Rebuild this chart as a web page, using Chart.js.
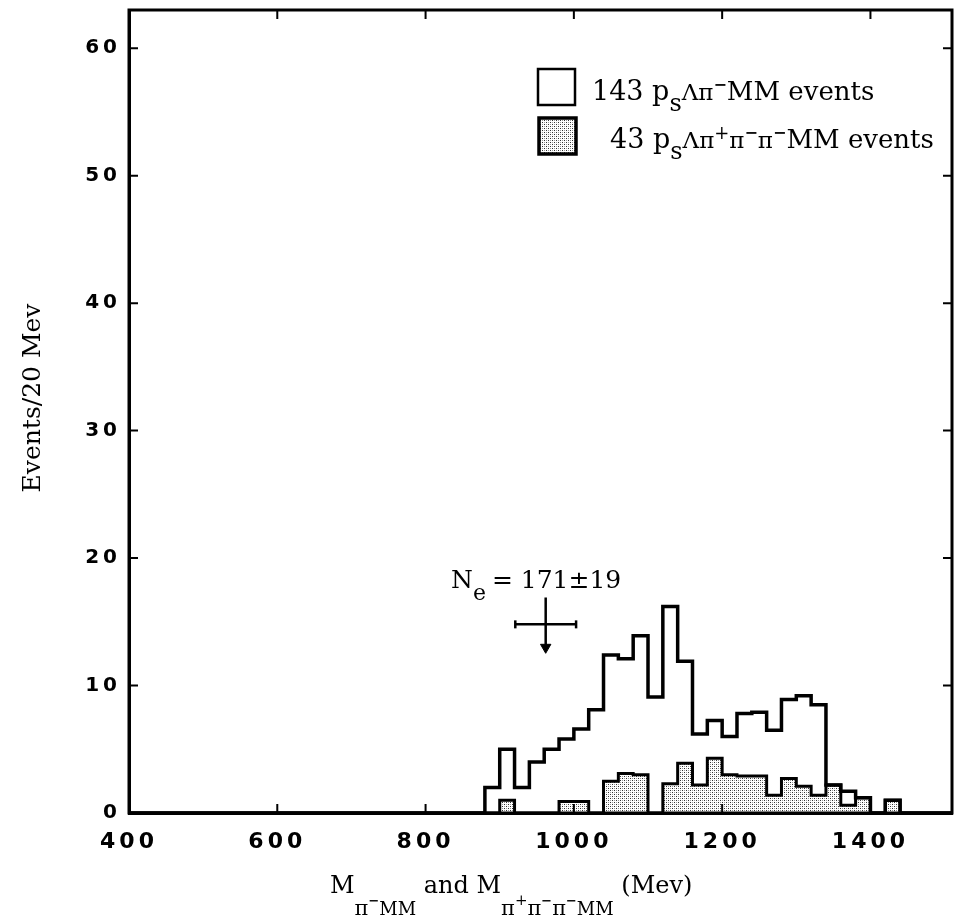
<!DOCTYPE html>
<html><head><meta charset="utf-8">
<script src="https://cdn.jsdelivr.net/npm/chart.js@4.4.0/dist/chart.umd.min.js"></script>
<style>html,body{margin:0;padding:0;background:#fff}#wrap{width:959px;height:923px;position:relative}</style>
</head><body><div id="wrap"><canvas id="c" width="959" height="923"></canvas></div>
<script>
// ---- data ----
const binLowEdges = [880,900,920,940,960,980,1000,1020,1040,1060,1080,1100,1120,1140,1160,1180,1200,1220,1240,1260,1280,1300,1320,1340,1360,1380,1400,1420];
const totalEvents = [2,5,2,4,5,5.8,6.6,8.1,12.4,12.1,13.9,9.1,16.2,11.9,6.2,7.25,6.0,7.8,7.9,6.5,8.9,9.2,8.5,2.2,1.7,1.2,0,1];
const threePionEvents = [0,1,0,0,0,0.9,0.9,0,2.5,3.1,3.0,0,2.3,3.9,2.2,4.3,3.0,2.9,2.9,1.4,2.7,2.1,1.4,2.2,0.6,1.2,0,1];
const binWidth = [20];
const xTicks = [400,600,800,1000,1200,1400];
const yTicks = [0,10,20,30,40,50,60];
const xRange = [400,1510];
const yRange = [0,63];
const markerX = [962];
const markerY = [14.8];
const markerXErr = [41];
const markerYSpan = [16.9, 13.0];

// ---- helpers ----
function stepPoints(edges, vals) {
  const pts = [{x: xRange[0], y: 0}];
  edges.forEach((e, i) => pts.push({x: e, y: vals[i]}));
  pts.push({x: edges[edges.length - 1] + binWidth[0], y: 0});
  pts.push({x: xRange[1], y: 0});
  return pts;
}
function makePattern() {
  const c = document.createElement('canvas');
  c.width = 4; c.height = 4;
  const g = c.getContext('2d');
  g.fillStyle = '#ffffff'; g.fillRect(0, 0, 4, 4);
  g.fillStyle = '#333333';
  g.fillRect(0, 0, 1, 1); g.fillRect(2, 2, 1, 1);
  g.fillStyle = '#9a9a9a';
  g.fillRect(2, 0, 1, 1); g.fillRect(0, 2, 1, 1);
  return document.getElementById('c').getContext('2d').createPattern(c, 'repeat');
}
const stipple = makePattern();
const SERIF = '"DejaVu Serif"';
function drawRich(ctx, x, y, segs) {
  ctx.save();
  ctx.fillStyle = '#000'; ctx.textBaseline = 'alphabetic'; ctx.textAlign = 'left';
  for (const s of segs) {
    ctx.font = `${s.w || 'normal'} ${s.size}px ${SERIF}`;
    ctx.fillText(s.t, x, y + (s.dy || 0));
    x += ctx.measureText(s.t).width + (s.gap || 0);
  }
  ctx.restore();
  return x;
}

const decor = {
  id: 'decor',
  beforeDraw(chart) {
    if ('letterSpacing' in chart.ctx) chart.ctx.letterSpacing = '4px';
  },
  afterDatasetsDraw(chart) {
    const {ctx, chartArea: a, scales: {x, y}} = chart;
    ctx.save();
    ctx.strokeStyle = '#000'; ctx.lineWidth = 3;
    ctx.strokeRect(a.left, a.top, a.right - a.left, a.bottom - a.top);
    ctx.lineWidth = 2;
    const L = 9;
    ctx.beginPath();
    yTicks.forEach(v => {
      if (v === yRange[0]) return;
      const py = y.getPixelForValue(v);
      ctx.moveTo(a.left, py); ctx.lineTo(a.left + L, py);
      ctx.moveTo(a.right, py); ctx.lineTo(a.right - L, py);
    });
    xTicks.forEach(v => {
      if (v === xRange[0]) return;
      const px = x.getPixelForValue(v);
      ctx.moveTo(px, a.bottom); ctx.lineTo(px, a.bottom - L);
      ctx.moveTo(px, a.top); ctx.lineTo(px, a.top + L);
    });
    ctx.stroke();
    ctx.restore();
  },
  afterDraw(chart) {
    const ctx = chart.ctx;
    if ('letterSpacing' in ctx) ctx.letterSpacing = '0px';
    // legend boxes
    ctx.save();
    ctx.strokeStyle = '#000';
    ctx.fillStyle = '#fff'; ctx.lineWidth = 2.5;
    ctx.fillRect(538, 69, 37, 36); ctx.strokeRect(538, 69, 37, 36);
    ctx.fillStyle = stipple; ctx.lineWidth = 3.5;
    ctx.fillRect(539, 118, 37, 36); ctx.strokeRect(539, 118, 37, 36);
    ctx.restore();
    // legend texts
    drawRich(ctx, 592, 100, [
      {t: '143 p', size: 27}, {t: 's', size: 24, dy: 11},
      {t: '\u039B\u03C0', size: 23}, {t: '\u2212', size: 16, dy: -10, w: 'bold'},
      {t: 'MM events', size: 26}
    ]);
    drawRich(ctx, 610, 148, [
      {t: '43 p', size: 27}, {t: 's', size: 24, dy: 11},
      {t: '\u039B\u03C0', size: 23}, {t: '+', size: 18, dy: -9},
      {t: '\u03C0', size: 23}, {t: '\u2212', size: 16, dy: -10, w: 'bold'},
      {t: '\u03C0', size: 23}, {t: '\u2212', size: 16, dy: -10, w: 'bold'},
      {t: 'MM events', size: 26}
    ]);
    // N_e annotation
    drawRich(ctx, 451, 588, [
      {t: 'N', size: 25}, {t: 'e', size: 22, dy: 12, gap: 6},
      {t: '= 171\u00B119', size: 25}
    ]);
    // x-axis title
    drawRich(ctx, 330, 893, [
      {t: 'M', size: 24},
      {t: '\u03C0', size: 21, dy: 22}, {t: '\u2212', size: 13, dy: 12, w: 'bold'},
      {t: 'MM', size: 18, dy: 22},
      {t: ' and M', size: 24},
      {t: '\u03C0', size: 21, dy: 22}, {t: '+', size: 15, dy: 12},
      {t: '\u03C0', size: 21, dy: 22}, {t: '\u2212', size: 13, dy: 12, w: 'bold'},
      {t: '\u03C0', size: 21, dy: 22}, {t: '\u2212', size: 13, dy: 12, w: 'bold'},
      {t: 'MM', size: 18, dy: 22},
      {t: ' (Mev)', size: 24}
    ]);
    // y-axis title
    ctx.save();
    ctx.translate(33, 398);
    ctx.rotate(-Math.PI / 2);
    ctx.font = `25px ${SERIF}`;
    ctx.fillStyle = '#000'; ctx.textAlign = 'center'; ctx.textBaseline = 'middle';
    ctx.fillText('Events/20 Mev', 0, 0);
    ctx.restore();
  }
};

new Chart(document.getElementById('c'), {
  type: 'line',
  data: {
    datasets: [
      { label: 'hbar', data: [{x: markerX[0] - markerXErr[0], y: markerY[0]}, {x: markerX[0] + markerXErr[0], y: markerY[0]}],
        borderColor: '#000', borderWidth: 2.5, pointStyle: 'line', pointRotation: 90, pointRadius: 4,
        pointBorderWidth: 2.5, pointBorderColor: '#000', order: -2, clip: false },
      { label: 'vbar', data: [{x: markerX[0], y: markerYSpan[0]}, {x: markerX[0], y: markerYSpan[1]}],
        borderColor: '#000', borderWidth: 2.5, pointRadius: 0, order: -2 },
      { label: 'arrow', data: [{x: markerX[0], y: markerYSpan[1]}],
        showLine: false, pointStyle: 'triangle', pointRotation: 180, pointRadius: 6,
        pointBackgroundColor: '#000', pointBorderColor: '#000', order: -3 },
      { label: '143 psΛπ−MM events (total)', data: stepPoints(binLowEdges, totalEvents),
        stepped: 'before', borderColor: '#000', borderWidth: 3.5, pointRadius: 0, fill: false, order: 0, clip: false,
        borderJoinStyle: 'miter' },
      { label: '43 psΛπ+π−π−MM events', data: stepPoints(binLowEdges, threePionEvents),
        stepped: 'before', borderColor: '#000', borderWidth: 3, pointRadius: 0,
        fill: 'origin', backgroundColor: stipple, order: 1, clip: false, borderJoinStyle: 'miter' }
    ]
  },
  options: {
    responsive: false, animation: false, devicePixelRatio: 1,
    layout: {padding: {top: 10, right: 7, left: 0, bottom: 0}},
    plugins: {legend: {display: false}, tooltip: {enabled: false}, title: {display: false}},
    scales: {
      x: {
        type: 'linear', min: xRange[0], max: xRange[1],
        afterBuildTicks: s => { s.ticks = xTicks.map(v => ({value: v})); },
        afterFit: s => { s.height = 110; s.paddingLeft = 0; s.paddingRight = 0; },
        ticks: {font: {family: '"DejaVu Sans"', weight: 'bold', size: 22}, color: '#000', padding: 16, maxRotation: 0, autoSkip: false, callback: v => String(v)},
        grid: {display: false, drawTicks: false},
        border: {display: true, width: 3, color: '#000'}
      },
      y: {
        type: 'linear', min: yRange[0], max: yRange[1],
        afterBuildTicks: s => { s.ticks = yTicks.map(v => ({value: v})); },
        afterFit: s => { s.width = 129; s.paddingTop = 0; s.paddingBottom = 0; },
        ticks: {font: {family: '"DejaVu Sans"', weight: 'bold', size: 20}, color: '#000', padding: 8, autoSkip: false, callback: v => String(v)},
        grid: {display: false, drawTicks: false},
        border: {display: true, width: 3, color: '#000'}
      }
    }
  },
  plugins: [decor]
});
</script></body></html>
